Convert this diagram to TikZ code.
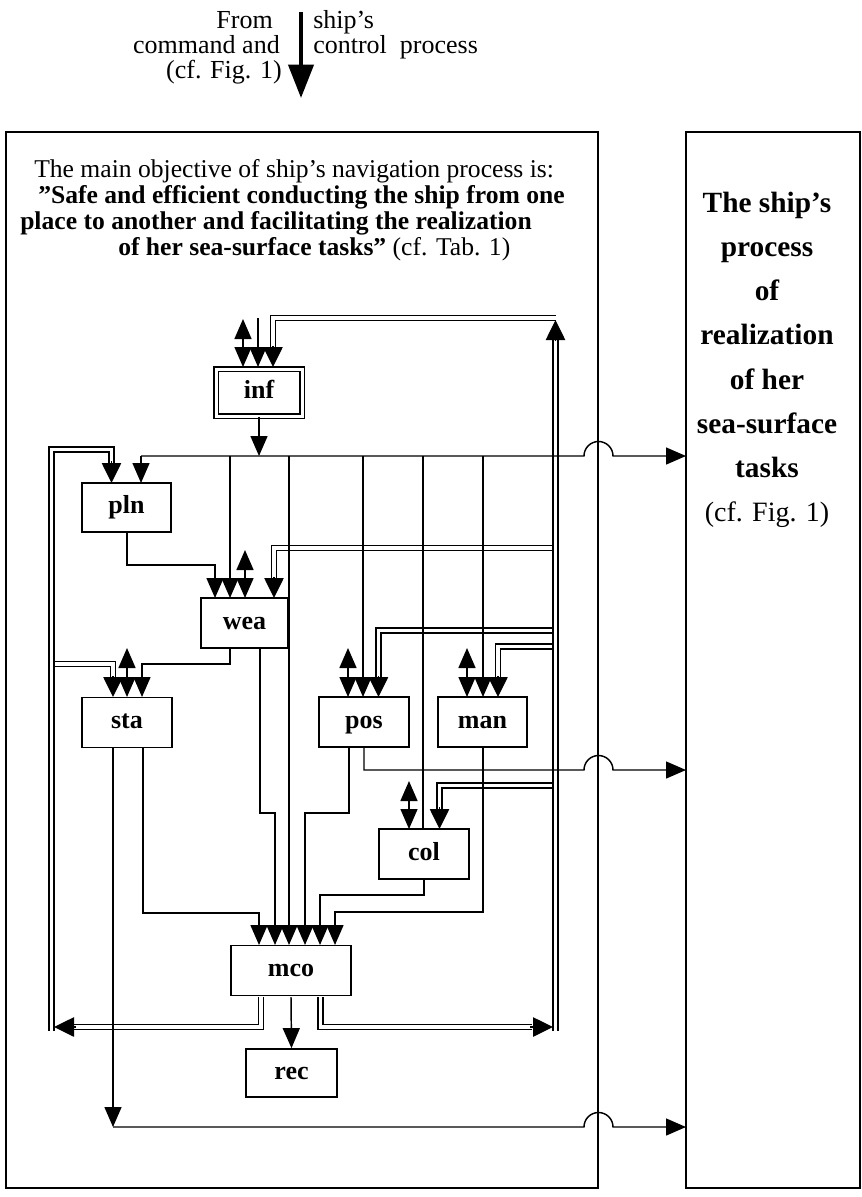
\documentclass[tikz,border=0pt]{standalone}
\usepackage{fontspec}
\setmainfont{Liberation Serif}
\usetikzlibrary{arrows.meta}
\begin{document}
\begin{tikzpicture}[x=0.75pt,y=-0.75pt,
  >={Triangle[width=12.75pt,length=15pt]},
  ln/.style={line width=1.1pt},
  ar/.style={ln,->},
  ar2/.style={ln,<->},
  dbl/.style={double, double distance=2.8pt, line width=1.1pt},
  dar/.style={ln,-{Triangle[width=14.5pt,length=15pt]}},
  box/.style={draw, line width=1.3pt, inner sep=0pt, minimum height=37.5pt, text height=9.5pt, text depth=0pt, font=\fontsize{19.5}{19.5}\selectfont\bfseries},
  txt/.style={inner sep=0pt, font=\fontsize{19.5}{19.5}\selectfont},
  ttl/.style={inner sep=0pt, anchor=base west, font=\fontsize{19.2}{19.2}\selectfont},
  rtxt/.style={inner sep=0pt, anchor=base, font=\fontsize{22}{22}\selectfont\bfseries},
]
\useasboundingbox (0,0) rectangle (862,1197);

% frames
\node[draw, line width=1.1pt, minimum width=444pt, minimum height=792pt, inner sep=0pt] (nav) at (302,660) {};
\node[draw, line width=1.6pt, minimum width=130.5pt, minimum height=792pt, inner sep=0pt] (tasks) at (773,660) {};

% top input
\node[txt, anchor=base east] (from) at (273,28) {From};
\node[txt, anchor=base east] (cmd) at (280,53) {command and};
\node[txt, anchor=base east] (cf) at (282,78) {(cf. Fig. 1)};
\node[txt, anchor=base west] (ships) at (313,28) {ship’s};
\node[txt, anchor=base west] (ctrl) at (313,53) {control\ \ process};
\coordinate (cmdtop) at (301,12);
\coordinate (cmdtip) at (301,98);
\draw[line width=3pt, -{Triangle[width=18.75pt,length=25pt]}] (cmdtop) -- (cmdtip);

% title text
\node[ttl] (t1) at (34,177) {The main objective of ship’s navigation process is:};
\node[ttl] (t2) at (38,203) {\bfseries ”Safe and efficient conducting the ship from one};
\node[ttl] (t3) at (20,229) {\bfseries place to another and facilitating the realization};
\node[ttl] (t4) at (118,255) {\bfseries of her sea-surface tasks”\mdseries{} (cf. Tab. 1)};

% right box text
\node[rtxt] (r1) at (767,212) {The ship’s};
\node[rtxt] (r2) at (767,256) {process};
\node[rtxt] (r3) at (767,300) {of};
\node[rtxt] (r4) at (767,344) {realization};
\node[rtxt] (r5) at (767,389) {of her};
\node[rtxt] (r6) at (767,433) {sea-surface};
\node[rtxt] (r7) at (767,477) {tasks};
\node[rtxt, font=\fontsize{21}{21}\selectfont] (r8) at (767,521) {(cf. Fig. 1)};

% boxes
\node[box, double, double distance=2.25pt, line width=0.9pt, minimum width=64.5pt, minimum height=35.25pt] (inf) at (259,392.5) {inf};
\node[box, minimum width=66.75pt, minimum height=36.75pt] (pln) at (126.5,507.5) {pln};
\node[box, minimum width=65.25pt] (wea) at (244.5,623) {wea};
\node[box, minimum width=67.5pt] (sta) at (127,722.5) {sta};
\node[box, minimum width=67.5pt] (pos) at (364,722) {pos};
\node[box, minimum width=66.75pt] (man) at (482.5,722) {man};
\node[box, minimum width=67.5pt] (col) at (424,854) {col};
\node[box, minimum width=90pt] (mco) at (291,970.5) {mco};
\node[box, minimum width=68.25pt, minimum height=36pt] (rec) at (291.5,1073) {rec};

% ---- double lines: branches first
\draw[dbl] (555.5,548) -- (274,548) -- (274,579);
\draw[dar] (274,577) -- (274,598);
\draw[dbl] (555.5,630.5) -- (378.5,630.5) -- (378.5,678);
\draw[dar] (378.5,676) -- (378.5,697);
\draw[dbl] (555.5,646.5) -- (498,646.5) -- (498,678);
\draw[dar] (498,676) -- (498,697);
\draw[dbl] (555.5,785.5) -- (439.5,785.5) -- (439.5,809);
\draw[dar] (439.5,807) -- (439.5,829);
\draw[dbl] (51.5,664) -- (113,664) -- (113,678);
\draw[dar] (113,676) -- (113,697);
% main doubles
\draw[dbl] (556,318) -- (273,318) -- (273,348);
\draw[dar] (273,346) -- (273,367);
\draw[dbl] (555.5,1031) -- (555.5,339);
\draw[dar] (555.5,341) -- (555.5,320);
\draw[dbl] (51.5,1031) -- (51.5,449.5) -- (111.5,449.5) -- (111.5,463);
\draw[dar] (111.5,461) -- (111.5,483);
\draw[dbl] (261,997) -- (261,1027) -- (74,1027);
\draw[dar] (76,1027) -- (54,1027);
\draw[dbl] (320.5,997) -- (320.5,1027) -- (532,1027);
\draw[dar] (530,1027) -- (553,1027);

% ---- single lines
\draw[ar2] (243,319) -- (243,367);
\draw[ar] (258,318) -- (258,367);
\draw[ar] (inf.south) -- (259,456);
\draw[ar] (141,456) -- (584,456) arc[start angle=180, end angle=360, radius=14.5] -- (686,456);
\draw[ar] (141,456) -- (141,483);
\draw[ar] (230,456) -- (230,598);
\draw[ar] (289,456) -- (289,945);
\draw[ar] (363,456) -- (363,697);
\draw[ln] (423,456) -- (423,829);
\draw[ar] (483,456) -- (483,697);

\draw[ar] (127,532) -- (127,565) -- (215,565) -- (215,598);
\draw[ar2] (245,550) -- (245,598);
\draw[ar] (230,648) -- (230,664) -- (142,664) -- (142,697);
\draw[ar] (260,648) -- (260,813) -- (275,813) -- (275,945);
\draw[ar2] (127,648) -- (127,697);
\draw[ar] (143,748) -- (143,913) -- (259,913) -- (259,945);
\draw[ar] (113,748) -- (113,1127);
\draw[ar] (113,1127) -- (584,1127) arc[start angle=180, end angle=360, radius=14.5] -- (686,1127);
\draw[ar2] (348,648) -- (348,697);
\draw[ar] (349,747) -- (349,813) -- (305,813) -- (305,945);
\draw[ar] (364,747) -- (364,770) -- (584,770) arc[start angle=180, end angle=360, radius=14.5] -- (686,770);
\draw[ar2] (467,648) -- (467,697);
\draw[ar] (483,747) -- (483,912) -- (335,912) -- (335,945);
\draw[ar2] (409,781) -- (409,829);
\draw[ar] (424,879) -- (424,895) -- (320,895) -- (320,945);
\draw[ar] (291,997) -- (rec.north);
\end{tikzpicture}
\end{document}
